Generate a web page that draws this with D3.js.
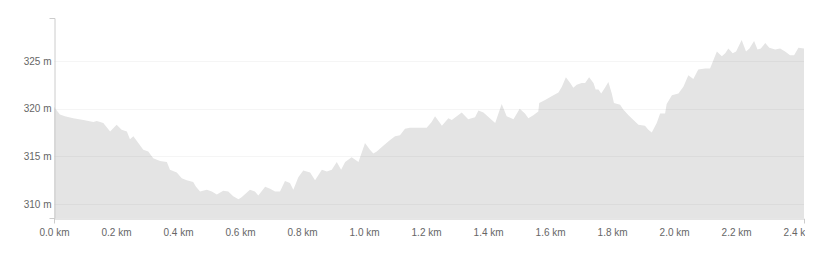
<!DOCTYPE html>
<html>
<head>
<meta charset="utf-8">
<script src="https://cdn.jsdelivr.net/npm/d3@7"></script>
<style>
  body { margin: 0; background: #fff; }
  .tick text { font-family: "Liberation Sans", Arial, sans-serif; font-size: 10px; fill: #666; }
</style>
</head>
<body>
<div id="chart"></div>
<script>
// elevation profile, distance in km and height in m
const DISTANCE = [0.000, 0.009, 0.019, 0.035, 0.062, 0.095, 0.127, 0.138, 0.159, 0.181,
  0.202, 0.218, 0.235, 0.245, 0.256, 0.272, 0.288, 0.304, 0.320, 0.342,
  0.364, 0.374, 0.396, 0.412, 0.428, 0.449, 0.458, 0.471, 0.493, 0.509,
  0.525, 0.546, 0.562, 0.578, 0.595, 0.605, 0.632, 0.648, 0.659, 0.681,
  0.697, 0.713, 0.729, 0.745, 0.761, 0.772, 0.788, 0.804, 0.826, 0.842,
  0.864, 0.880, 0.896, 0.912, 0.926, 0.939, 0.960, 0.982, 1.001, 1.003,
  1.019, 1.030, 1.041, 1.062, 1.084, 1.100, 1.116, 1.132, 1.148, 1.202,
  1.218, 1.229, 1.245, 1.251, 1.272, 1.283, 1.299, 1.315, 1.336, 1.358,
  1.369, 1.385, 1.412, 1.423, 1.444, 1.460, 1.482, 1.502, 1.519, 1.530,
  1.546, 1.562, 1.565, 1.584, 1.605, 1.627, 1.638, 1.651, 1.665, 1.675,
  1.686, 1.702, 1.713, 1.726, 1.740, 1.747, 1.756, 1.765, 1.777, 1.788,
  1.799, 1.806, 1.826, 1.836, 1.853, 1.869, 1.885, 1.906, 1.917, 1.928,
  1.944, 1.955, 1.971, 1.976, 1.993, 2.014, 2.030, 2.046, 2.062, 2.078,
  2.100, 2.116, 2.127, 2.138, 2.154, 2.165, 2.175, 2.189, 2.200, 2.218,
  2.232, 2.243, 2.258, 2.269, 2.280, 2.294, 2.307, 2.326, 2.342, 2.358,
  2.374, 2.387, 2.401, 2.419];

const ELEVATION = [320.2, 319.8, 319.4, 319.2, 319.0, 318.8, 318.6, 318.7, 318.5, 317.6,
  318.3, 317.8, 317.6, 316.8, 317.1, 316.4, 315.7, 315.5, 314.8, 314.5,
  314.4, 313.6, 313.3, 312.7, 312.5, 312.3, 311.8, 311.3, 311.5, 311.3,
  311.0, 311.4, 311.3, 310.8, 310.5, 310.7, 311.5, 311.3, 310.9, 311.8,
  311.6, 311.3, 311.3, 312.4, 312.2, 311.5, 312.8, 313.5, 313.3, 312.5,
  313.6, 313.4, 313.6, 314.4, 313.6, 314.4, 314.9, 314.4, 316.2, 316.4,
  315.7, 315.3, 315.5, 316.1, 316.7, 317.1, 317.2, 317.9, 318.0, 318.0,
  318.6, 319.2, 318.5, 318.2, 319.0, 318.8, 319.2, 319.6, 318.9, 319.1,
  319.8, 319.6, 318.8, 318.5, 320.5, 319.2, 318.9, 320.0, 319.5, 319.0,
  319.3, 319.7, 320.6, 320.9, 321.3, 321.7, 322.3, 323.3, 322.7, 322.2,
  322.5, 322.7, 322.7, 323.3, 322.7, 322.0, 322.0, 321.6, 322.2, 322.8,
  321.6, 320.6, 320.4, 319.9, 319.3, 318.8, 318.3, 318.2, 317.8, 317.5,
  318.5, 319.5, 319.5, 320.5, 321.4, 321.6, 322.3, 323.5, 323.1, 324.1,
  324.2, 324.2, 325.1, 326.0, 325.5, 325.8, 326.3, 325.8, 326.0, 327.2,
  326.0, 326.3, 327.1, 326.2, 326.3, 326.9, 326.4, 326.2, 326.3, 326.0,
  325.6, 325.6, 326.4, 326.3];

const X_TICKS = [0, 0.2, 0.4, 0.6, 0.8, 1.0, 1.2, 1.4, 1.6, 1.8, 2.0, 2.2, 2.4];
const Y_TICKS = [310, 315, 320, 325];
const Y_DOMAIN = [308.53, 329.51];

// frame
const FRAME_WIDTH = 805;
const FRAME_HEIGHT = 256;
const MARGINS = {left: 54, top: 18, bottom: 38};
const VIS_HEIGHT = FRAME_HEIGHT - MARGINS.top - MARGINS.bottom;

const FRAME = d3.select("#chart")
  .append("svg")
    .attr("width", FRAME_WIDTH)
    .attr("height", FRAME_HEIGHT);

const points = DISTANCE.map((d, i) => ({km: d, m: ELEVATION[i]}));

// scales
const X_SCALE = d3.scaleLinear()
  .domain([0, d3.max(DISTANCE)])
  .range([MARGINS.left, FRAME_WIDTH - 1]);

const Y_SCALE = d3.scaleLinear()
  .domain(Y_DOMAIN)
  .range([MARGINS.top + VIS_HEIGHT, MARGINS.top]);

// filled profile
const area = d3.area()
  .x((d) => X_SCALE(d.km))
  .y0(Y_SCALE(Y_DOMAIN[0]))
  .y1((d) => Y_SCALE(d.m));

FRAME.append("path")
  .datum(points)
  .attr("d", area)
  .attr("fill", "#e4e4e4");

// faint horizontal grid on top of the area
FRAME.append("g")
  .selectAll("line")
  .data(Y_TICKS)
  .enter()
  .append("line")
    .attr("x1", MARGINS.left)
    .attr("x2", X_SCALE.range()[1])
    .attr("y1", (d) => Math.round(Y_SCALE(d)) + 0.5)
    .attr("y2", (d) => Math.round(Y_SCALE(d)) + 0.5)
    .attr("stroke", "rgba(0,0,0,0.04)");

// x axis
const xAxis = FRAME.append("g")
  .attr("transform", "translate(0," + (MARGINS.top + VIS_HEIGHT + 0.5) + ")")
  .call(d3.axisBottom(X_SCALE)
    .tickValues(X_TICKS)
    .tickFormat((d) => d3.format(".1f")(d) + " km")
    .tickSizeInner(0)
    .tickSizeOuter(5)
    .tickPadding(10));
xAxis.select(".domain").attr("stroke", "#ccc");

// y axis
const yAxis = FRAME.append("g")
  .attr("transform", "translate(" + (MARGINS.left + 0.5) + ",0)")
  .call(d3.axisLeft(Y_SCALE)
    .tickValues(Y_TICKS)
    .tickFormat((d) => d + " m")
    .tickSizeInner(0)
    .tickSizeOuter(5)
    .tickPadding(3));
yAxis.select(".domain").attr("stroke", "#ccc");

FRAME.selectAll(".tick line").remove();
</script>
</body>
</html>
